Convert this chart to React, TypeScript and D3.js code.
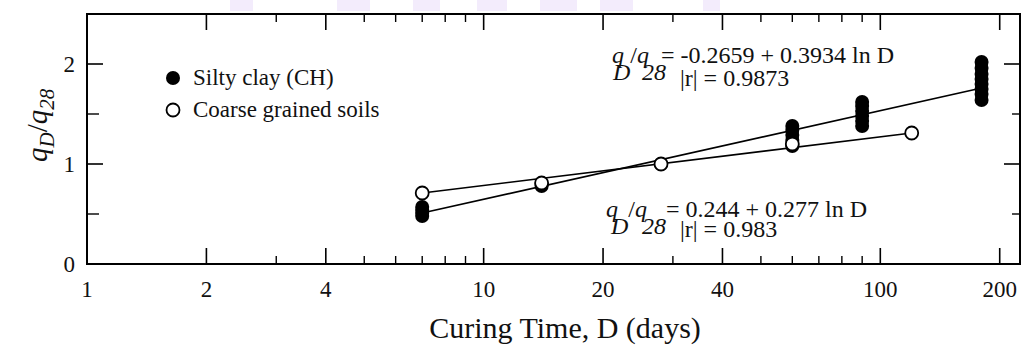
import React from "react";
import * as d3 from "d3";

// ---- data ----
const siltyDays = [7, 7, 7, 7, 14, 14, 28, 60, 60, 60, 60, 60, 90, 90, 90, 90, 90, 90, 180, 180, 180, 180, 180, 180, 180, 180];
const siltyValues = [0.48, 0.51, 0.54, 0.57, 0.78, 0.8, 1.0, 1.18, 1.24, 1.29, 1.34, 1.38, 1.38, 1.43, 1.48, 1.53, 1.58, 1.62, 1.64, 1.7, 1.75, 1.8, 1.85, 1.9, 1.96, 2.02];
const coarseDays = [7, 14, 28, 60, 120];
const coarseValues = [0.71, 0.81, 1.0, 1.2, 1.31];
const siltyFitDays = [7, 180];
const siltyFitValues = [0.51, 1.76];
const coarseFitDays = [7, 120];
const coarseFitValues = [0.71, 1.31];

const xMajorTicks = [2, 4, 10, 20, 40, 100, 200];
const xMinorTicks = [3, 5, 6, 7, 8, 9, 30, 50, 60, 70, 80, 90];
const xTickLabels = [1, 2, 4, 10, 20, 40, 100, 200];
const yMajorTicks = [1, 2];
const yMinorTicks = [0.5, 1.5];
const yTickLabels = [0, 1, 2];
const watermark = [
  [230, 253], [337, 370], [413, 440], [477, 507], [540, 577], [600, 633], [703, 720],
];

const W = 1030, H = 349;
const L = 87, R = 1020, T = 14, B = 264;
const FONT = "'Liberation Serif', 'Times New Roman', serif";

function Equation({ x, y, rest, r, rx, ry, d1, d2, d3x }: { x: number; y: number; rest: string; r: string; rx: number; ry: number; d1: number; d2: number; d3x: number }) {
  const sub = 17;
  return (
    <g fontFamily={FONT} fontSize={24} fill="#111">
      <text x={x} y={y}>
        <tspan fontStyle="italic">q</tspan>
        <tspan fontStyle="italic" dx={d1} dy={sub}>D</tspan>
        <tspan dy={-sub}>/</tspan>
        <tspan fontStyle="italic">q</tspan>
        <tspan fontStyle="italic" dx={d2} dy={sub}>28</tspan>
        <tspan dx={d3x} dy={-sub}>{rest}</tspan>
      </text>
      <text x={rx} y={ry}>{r}</text>
    </g>
  );
}

export default function App() {
  const x = d3.scaleLog().domain([1, 225]).range([L, R]);
  const y = d3.scaleLinear().domain([0, 2.5]).range([B, T]);
  const line = d3.line<[number, number]>().x(d => x(d[0])).y(d => y(d[1]));
  const siltyFit = siltyFitDays.map((d, i) => [d, siltyFitValues[i]] as [number, number]);
  const coarseFit = coarseFitDays.map((d, i) => [d, coarseFitValues[i]] as [number, number]);
  const major = 16, minor = 8;
  const lab = { fontFamily: FONT, fontSize: 23, fill: "#111" } as const;

  return (
    <svg width={W} height={H} style={{ position: "absolute", left: 0, top: 0, background: "#fff" }}>
      {watermark.map(([a, b], i) => (
        <rect key={i} x={a} y={0} width={b - a} height={11} fill="#f3ecfc" />
      ))}
      {/* frame */}
      <rect x={L} y={T} width={R - L} height={B - T} fill="none" stroke="#000" strokeWidth={2} />
      {/* x ticks bottom & top */}
      {xMajorTicks.map(t => (
        <g key={"xM" + t}>
          <line x1={x(t)} x2={x(t)} y1={B} y2={B - major} stroke="#000" strokeWidth={1.6} />
          <line x1={x(t)} x2={x(t)} y1={T} y2={T + major} stroke="#000" strokeWidth={1.6} />
        </g>
      ))}
      {xMinorTicks.map(t => (
        <g key={"xm" + t}>
          <line x1={x(t)} x2={x(t)} y1={B} y2={B - minor} stroke="#000" strokeWidth={1.4} />
          <line x1={x(t)} x2={x(t)} y1={T} y2={T + minor} stroke="#000" strokeWidth={1.4} />
        </g>
      ))}
      {xTickLabels.map(t => (
        <text key={"xl" + t} x={x(t)} y={B + 33} textAnchor="middle" {...lab}>{t}</text>
      ))}
      {/* y ticks */}
      {yMajorTicks.map(t => (
        <g key={"yM" + t}>
          <line x1={L} x2={L + major} y1={y(t)} y2={y(t)} stroke="#000" strokeWidth={1.6} />
          <line x1={R} x2={R - major} y1={y(t)} y2={y(t)} stroke="#000" strokeWidth={1.6} />
        </g>
      ))}
      {yMinorTicks.map(t => (
        <g key={"ym" + t}>
          <line x1={L} x2={L + minor + 4} y1={y(t)} y2={y(t)} stroke="#000" strokeWidth={1.4} />
          <line x1={R} x2={R - minor} y1={y(t)} y2={y(t)} stroke="#000" strokeWidth={1.4} />
        </g>
      ))}
      {yTickLabels.map(t => (
        <text key={"yl" + t} x={L - 12} y={y(t) + 8} textAnchor="end" {...lab}>{t}</text>
      ))}
      {/* axis titles */}
      <text x={565} y={338} textAnchor="middle" fontFamily={FONT} fontSize={30} fill="#111">
        Curing Time, D (days)
      </text>
      <text transform="translate(47,162) rotate(-90)" fontFamily={FONT} fontSize={29} fill="#111">
        <tspan fontStyle="italic">q</tspan>
        <tspan fontStyle="italic" fontSize={21} dy={7}>D</tspan>
        <tspan dy={-7}>/</tspan>
        <tspan fontStyle="italic">q</tspan>
        <tspan fontStyle="italic" fontSize={21} dy={7}>28</tspan>
      </text>
      {/* fit lines */}
      <path d={line(siltyFit) || ""} fill="none" stroke="#000" strokeWidth={1.6} />
      <path d={line(coarseFit) || ""} fill="none" stroke="#000" strokeWidth={1.6} />
      {/* markers */}
      {siltyDays.map((d, i) => (
        <circle key={"s" + i} cx={x(d)} cy={y(siltyValues[i])} r={7} fill="#000" />
      ))}
      {coarseDays.map((d, i) => (
        <circle key={"c" + i} cx={x(d)} cy={y(coarseValues[i])} r={6.5} fill="#fff" stroke="#000" strokeWidth={1.8} />
      ))}
      {/* legend */}
      <circle cx={173} cy={78} r={7} fill="#000" />
      <text x={193} y={85} {...lab}>Silty clay (CH)</text>
      <circle cx={173} cy={110} r={6.5} fill="#fff" stroke="#000" strokeWidth={1.8} />
      <text x={193} y={117} {...lab}>Coarse grained soils</text>
      {/* equations */}
      <Equation x={612} y={63} rest="= -0.2659 + 0.3934 ln D" r="|r| = 0.9873" rx={680} ry={86} d1={-11} d2={-7} d3x={-5} />
      <Equation x={606} y={217} rest="= 0.244 + 0.277 ln D" r="|r| = 0.983" rx={680} ry={237} d1={-7} d2={-5} d3x={0} />
    </svg>
  );
}
